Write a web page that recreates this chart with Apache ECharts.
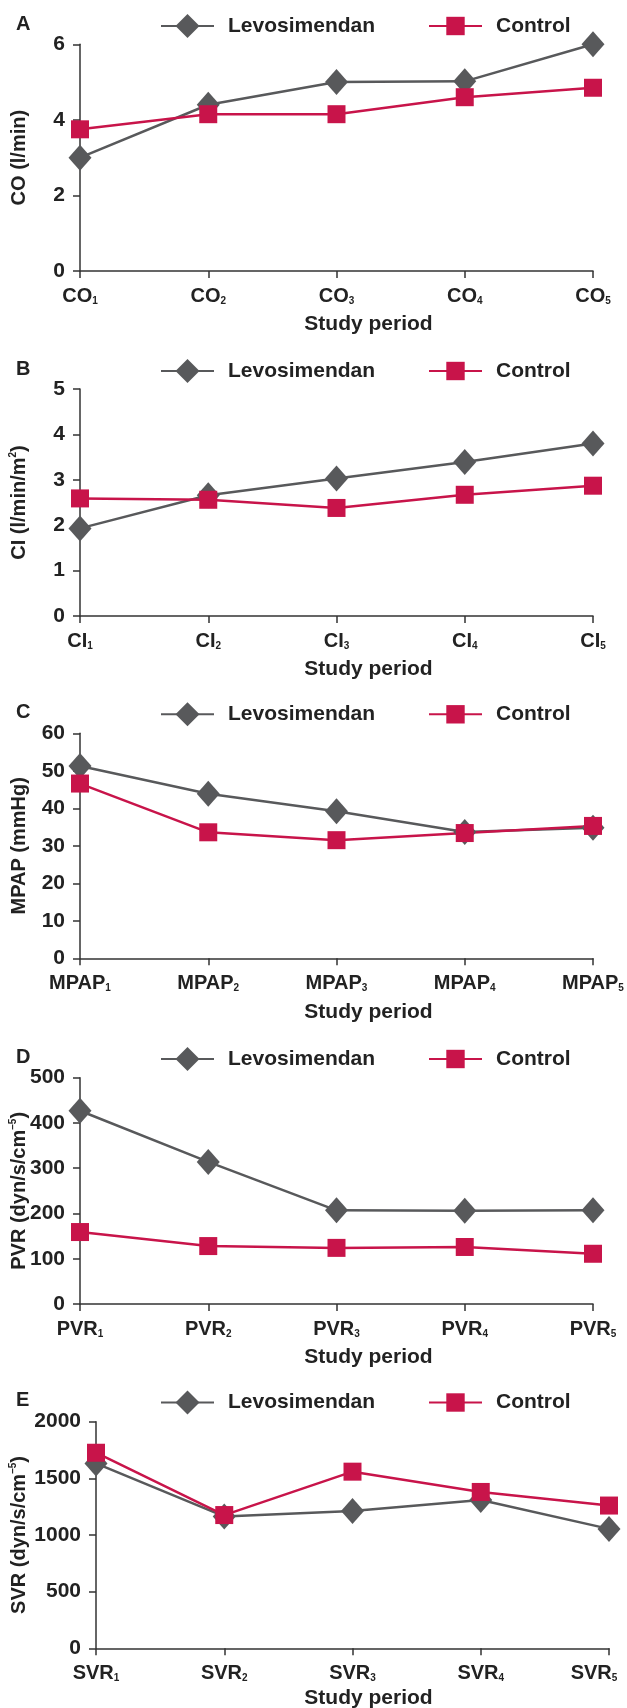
<!DOCTYPE html>
<html>
<head>
<meta charset="utf-8">
<script src="https://cdn.jsdelivr.net/npm/echarts@6/dist/echarts.min.js"></script>
<style>
html,body{margin:0;padding:0;background:#fff;}
#c{width:627px;height:1708px;}
</style>
</head>
<body>
<div id="c"></div>
<script>
// ---- Data ----
const seriesNames = ['Levosimendan', 'Control'];

const catCO = ['CO1', 'CO2', 'CO3', 'CO4', 'CO5'];
const levoCO = [3.0, 4.4, 5.0, 5.02, 6.0];
const ctrlCO = [3.75, 4.15, 4.15, 4.6, 4.85];

const catCI = ['CI1', 'CI2', 'CI3', 'CI4', 'CI5'];
const levoCI = [1.93, 2.66, 3.03, 3.39, 3.8];
const ctrlCI = [2.59, 2.56, 2.38, 2.67, 2.87];

const catMPAP = ['MPAP1', 'MPAP2', 'MPAP3', 'MPAP4', 'MPAP5'];
const levoMPAP = [51.3, 43.9, 39.2, 33.7, 34.8];
const ctrlMPAP = [46.6, 33.6, 31.5, 33.4, 35.3];

const catPVR = ['PVR1', 'PVR2', 'PVR3', 'PVR4', 'PVR5'];
const levoPVR = [427, 314, 207, 206, 207];
const ctrlPVR = [159, 128, 124, 126, 111];

const catSVR = ['SVR1', 'SVR2', 'SVR3', 'SVR4', 'SVR5'];
const levoSVR = [1632, 1164, 1211, 1309, 1054];
const ctrlSVR = [1726, 1176, 1559, 1380, 1260];

const yTicks = {
  CO: [0, 6, 2],
  CI: [0, 5, 1],
  MPAP: [0, 60, 10],
  PVR: [0, 500, 100],
  SVR: [0, 2000, 500]
};

const panelLetters = ['A', 'B', 'C', 'D', 'E'];
const yNames = [
  '{m|CO (l/min)}',
  '{m|CI (l/min/m}{sup|2}{m|)}',
  '{m|MPAP (mmHg)}',
  '{m|PVR (dyn/s/cm}{sup|–5}{m|)}',
  '{m|SVR (dyn/s/cm}{sup|–5}{m|)}'
];
const xName = 'Study period';

// ---- Layout / style ----
const FONT = '"Liberation Sans", Arial, sans-serif';
const GRAY = '#58595b';
const RED = '#c8144a';
const AXIS = '#333';
const TXT = '#222';

const panels = [
  {cats: catCO, levo: levoCO, ctrl: ctrlCO, yt: yTicks.CO, top: 44.3, h: 226.7, left: 80, right: 34, legY: 25, nameGap: 50, xPad: 64, lastPad: 0, xGap: 43},
  {cats: catCI, levo: levoCI, ctrl: ctrlCI, yt: yTicks.CI, top: 389, h: 227, left: 80, right: 34, legY: 370, nameGap: 50, xPad: 64, lastPad: 0, xGap: 43},
  {cats: catMPAP, levo: levoMPAP, ctrl: ctrlMPAP, yt: yTicks.MPAP, top: 733.3, h: 225, left: 80, right: 34, legY: 713.3, nameGap: 50, xPad: 64, lastPad: 0, xGap: 43},
  {cats: catPVR, levo: levoPVR, ctrl: ctrlPVR, yt: yTicks.PVR, top: 1077.7, h: 226.3, left: 80, right: 34, legY: 1058, nameGap: 50, xPad: 64, lastPad: 0, xGap: 43},
  {cats: catSVR, levo: levoSVR, ctrl: ctrlSVR, yt: yTicks.SVR, top: 1421.7, h: 226.6, left: 96, right: 18, legY: 1401.5, nameGap: 66, xPad: 32, lastPad: 30, xGap: 39}
];

const grid = [], xAxis = [], yAxis = [], series = [], legend = [], title = [];

panels.forEach((p, i) => {
  grid.push({left: p.left, right: p.right, top: p.top, height: p.h, containLabel: false, outerBoundsMode: 'none'});
  xAxis.push({
    type: 'category', gridIndex: i, data: p.cats, boundaryGap: false,
    axisLine: {lineStyle: {color: AXIS, width: 1.5}},
    axisTick: {show: true, length: 7, lineStyle: {color: AXIS, width: 1.5}},
    axisLabel: {
      margin: 15, interval: 0, hideOverlap: false,
      formatter: (v, idx) => {
        let s = '{m|' + v.replace(/\d$/, '') + '}{sub|' + v.slice(-1) + '}';
        if (idx === p.cats.length - 1 && p.lastPad) s += '{gap| }';
        return s;
      },
      rich: {
        m: {fontFamily: FONT, fontWeight: 'bold', fontSize: 20, color: TXT, lineHeight: 20},
        sub: {fontFamily: FONT, fontWeight: 'bold', fontSize: 10, color: TXT, verticalAlign: 'bottom', lineHeight: 10},
        gap: {width: p.lastPad, fontSize: 10, lineHeight: 10}
      }
    },
    name: xName, nameLocation: 'middle', nameGap: p.xGap, nameMoveOverlap: false,
    nameTextStyle: {fontFamily: FONT, fontWeight: 'bold', fontSize: 21, color: TXT, padding: [0, 0, 0, p.xPad]}
  });
  yAxis.push({
    type: 'value', gridIndex: i, min: p.yt[0], max: p.yt[1], interval: p.yt[2],
    splitLine: {show: false},
    axisLine: {show: true, lineStyle: {color: AXIS, width: 1.5}},
    axisTick: {show: true, length: 7, lineStyle: {color: AXIS, width: 1.5}},
    axisLabel: {margin: 15, fontFamily: FONT, fontWeight: 'bold', fontSize: 21, color: TXT, formatter: v => String(v)},
    name: yNames[i], nameLocation: 'middle', nameGap: p.nameGap, nameMoveOverlap: false,
    nameTextStyle: {
      rich: {
        m: {fontFamily: FONT, fontWeight: 'bold', fontSize: 20, color: TXT, lineHeight: 22},
        sup: {fontFamily: FONT, fontWeight: 'bold', fontSize: 10, color: TXT, verticalAlign: 'top', lineHeight: 22}
      }
    }
  });
  series.push({
    name: seriesNames[0], type: 'line', xAxisIndex: i, yAxisIndex: i, data: p.levo,
    symbol: 'diamond', symbolSize: [23, 26],
    lineStyle: {color: GRAY, width: 2.5}, itemStyle: {color: GRAY}, color: GRAY
  });
  series.push({
    name: seriesNames[1], type: 'line', xAxisIndex: i, yAxisIndex: i, data: p.ctrl,
    symbol: 'rect', symbolSize: 18,
    lineStyle: {color: RED, width: 2.5}, itemStyle: {color: RED}, color: RED
  });
  legend.push({
    data: [seriesNames[0]], left: 160, top: p.legY - 11, padding: 0, itemWidth: 53, itemHeight: 30,
    textStyle: {fontFamily: FONT, fontWeight: 'bold', fontSize: 21, color: TXT, padding: [0, 0, 0, 9]}
  });
  legend.push({
    data: [seriesNames[1]], left: 428, top: p.legY - 9.5, padding: 0, itemWidth: 53, itemHeight: 23,
    textStyle: {fontFamily: FONT, fontWeight: 'bold', fontSize: 21, color: TXT, padding: [0, 0, 0, 9]}
  });
  title.push({
    text: panelLetters[i], left: 16, top: p.legY - 11, padding: 0,
    textStyle: {fontFamily: FONT, fontWeight: 'bold', fontSize: 20, color: TXT}
  });
});

const chart = echarts.init(document.getElementById('c'), null, {renderer: 'canvas'});
chart.setOption({
  animation: false,
  backgroundColor: '#fff',
  title, grid, xAxis, yAxis, series, legend
});
</script>
</body>
</html>
